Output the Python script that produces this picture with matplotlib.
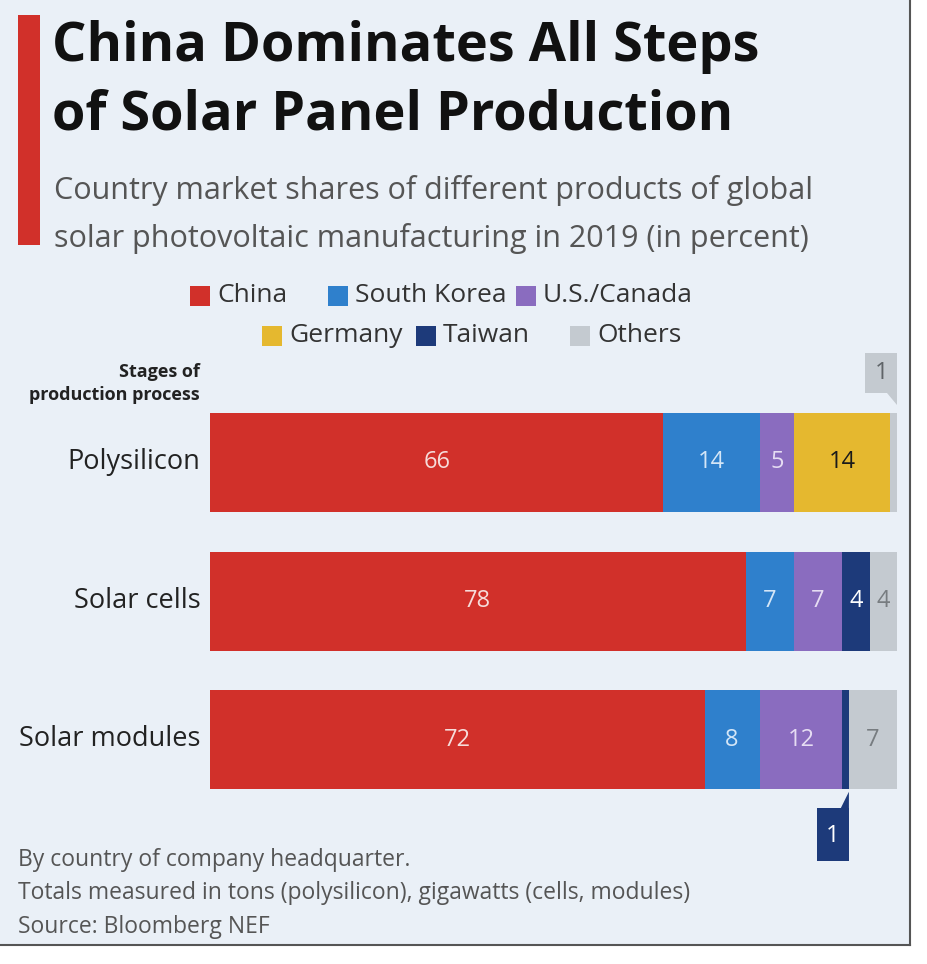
import matplotlib.pyplot as plt
from matplotlib.patches import Rectangle, Polygon

plt.rcParams['font.family'] = ['Open Sans', 'DejaVu Sans']

stages = ['Polysilicon', 'Solar cells', 'Solar modules']
countries = ['China', 'South Korea', 'U.S./Canada', 'Germany', 'Taiwan', 'Others']
china = [66, 78, 72]
south_korea = [14, 7, 8]
us_canada = [5, 7, 12]
germany = [14, 0, 0]
taiwan = [0, 4, 1]
others = [1, 4, 7]

colors = ['#d1302a', '#2f80cc', '#8a6cbf', '#e5b82f', '#1d3a7a', '#c4cad0']
label_colors = ['#f6dcda', '#d4e6f7', '#e6ddf3', '#1a1a1a', '#ffffff', '#777c80']
bg = '#eaf0f7'

W, H = 927, 964
fig = plt.figure(figsize=(W / 100, H / 100), dpi=100)
fig.patch.set_facecolor('white')


def fx(px):
    return px / W


def fy(py):
    return 1 - py / H


# panel background and frame
fig.patches.append(Rectangle((0, fy(945)), fx(910), 1 - fy(945), transform=fig.transFigure,
                             facecolor=bg, edgecolor='none', zorder=-10))
fig.add_artist(plt.Line2D([fx(910), fx(910)], [fy(945), 1], transform=fig.transFigure, color='#555555', lw=1.5))
fig.add_artist(plt.Line2D([0, fx(910)], [fy(945), fy(945)], transform=fig.transFigure, color='#555555', lw=1.5))

# red accent bar
fig.patches.append(Rectangle((fx(18), fy(245)), fx(22), fy(15) - fy(245), transform=fig.transFigure,
                             facecolor='#d1302a', edgecolor='none'))

# title and subtitle
fig.text(fx(52), fy(47), 'China Dominates All Steps', fontsize=39, fontweight='bold', color='#111111', va='center')
fig.text(fx(52), fy(116), 'of Solar Panel Production', fontsize=39, fontweight='bold', color='#111111', va='center')
fig.text(fx(54), fy(190), 'Country market shares of different products of global', fontsize=22, color='#555555', va='center')
fig.text(fx(54), fy(238), 'solar photovoltaic manufacturing in 2019 (in percent)', fontsize=22, color='#555555', va='center')

# legend, two centred rows
leg_rows = [[(0, 190), (1, 328), (2, 516)], [(3, 262), (4, 416), (5, 570)]]
for row, ypx in zip(leg_rows, [296, 336]):
    for idx, xpx in row:
        fig.patches.append(Rectangle((fx(xpx), fy(ypx + 10)), fx(20), fy(ypx - 10) - fy(ypx + 10),
                                     transform=fig.transFigure, facecolor=colors[idx], edgecolor='none'))
        fig.text(fx(xpx + 27), fy(ypx), countries[idx], fontsize=19, color='#333333', va='center')

# bars
ax = fig.add_axes([fx(210), fy(789), fx(897) - fx(210), fy(413) - fy(789)])
ax.set_facecolor('none')
bar_h = 99 / 138.5
ax.set_xlim(0, 100)
ax.set_ylim(2 + bar_h / 2, -bar_h / 2)
ax.axis('off')

series = [china, south_korea, us_canada, germany, taiwan, others]
left = [0, 0, 0]
for s_i, vals in enumerate(series):
    for c_i, v in enumerate(vals):
        if v == 0:
            continue
        ax.barh(c_i, v, left=left[c_i], height=bar_h, color=colors[s_i], edgecolor='none')
        if v > 1:
            ax.text(left[c_i] + v / 2, c_i, str(v), ha='center', va='center',
                    fontsize=17, color=label_colors[s_i])
        left[c_i] += v

# callout for polysilicon "Others" (1)
x_r = china[0] + south_korea[0] + us_canada[0] + germany[0] + taiwan[0] + others[0]
top_edge = -bar_h / 2
bw = 4.6
ax.add_patch(Rectangle((x_r - bw, top_edge - 0.43), bw, 0.285, facecolor=colors[5], edgecolor='none', clip_on=False))
ax.add_patch(Polygon([(x_r - 1.4, top_edge - 0.146), (x_r, top_edge - 0.146), (x_r, top_edge - 0.06)],
                     closed=True, facecolor=colors[5], edgecolor='none', clip_on=False))
ax.text(x_r - bw / 2, top_edge - 0.29, '1', ha='center', va='center', fontsize=17, color='#5f6468')

# callout for solar modules "Taiwan" (1)
x_r2 = china[2] + south_korea[2] + us_canada[2] + germany[2] + taiwan[2]
bot_edge = 2 + bar_h / 2
ax.add_patch(Rectangle((x_r2 - bw, bot_edge + 0.14), bw, 0.38, facecolor=colors[4], edgecolor='none', clip_on=False))
ax.add_patch(Polygon([(x_r2 - 1.2, bot_edge + 0.14), (x_r2, bot_edge + 0.02), (x_r2, bot_edge + 0.14)],
                     closed=True, facecolor=colors[4], edgecolor='none', clip_on=False))
ax.text(x_r2 - bw / 2, bot_edge + 0.34, '1', ha='center', va='center', fontsize=17, color='white')

# category labels
for c_i, name in enumerate(stages):
    ax.text(-1.4, c_i, name, ha='right', va='center', fontsize=19.5, color='#222222')
fig.text(fx(200), fy(372), 'Stages of', ha='right', va='center', fontsize=13, fontweight='bold', color='#222222')
fig.text(fx(200), fy(395), 'production process', ha='right', va='center', fontsize=13, fontweight='bold', color='#222222')

# footnotes
fig.text(fx(18), fy(860), 'By country of company headquarter.', fontsize=16.5, color='#555555', va='center')
fig.text(fx(18), fy(893), 'Totals measured in tons (polysilicon), gigawatts (cells, modules)', fontsize=16.5, color='#555555', va='center')
fig.text(fx(18), fy(927), 'Source: Bloomberg NEF', fontsize=16.5, color='#555555', va='center')

fig.savefig('out.png', dpi=100, facecolor=fig.get_facecolor())
